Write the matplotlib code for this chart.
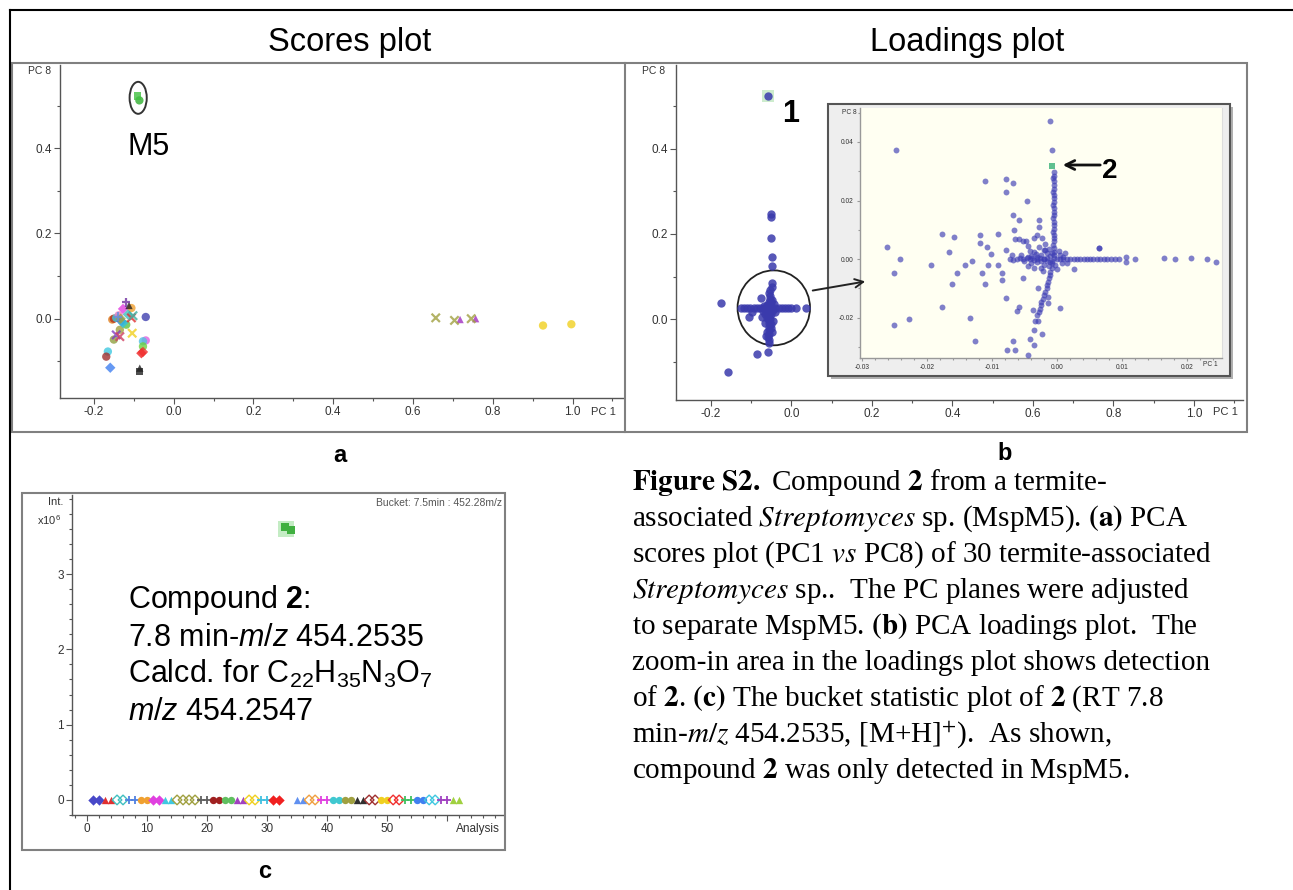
import matplotlib
matplotlib.use("Agg")
import matplotlib.pyplot as plt
from matplotlib.patches import Rectangle, Ellipse, FancyArrowPatch
from matplotlib.lines import Line2D
from matplotlib.ticker import MultipleLocator, FuncFormatter, FixedLocator

plt.rcParams['font.family'] = ['Liberation Sans', 'DejaVu Sans']
plt.rcParams['axes.unicode_minus'] = False
plt.rcParams['mathtext.fontset'] = 'custom'
plt.rcParams['mathtext.rm'] = 'Liberation Sans'
plt.rcParams['mathtext.it'] = 'Liberation Sans:italic'
plt.rcParams['mathtext.bf'] = 'Liberation Sans:bold'

# ---------------- data ----------------
# scores plot (PC1 vs PC8)
sc_x = [-0.119, -0.112, -0.106, -0.127, -0.154, -0.150, -0.144, -0.131, -0.127, -0.106,
        -0.119, -0.102, -0.070, -0.135, -0.104, -0.144, -0.135, -0.150, -0.070, -0.077,
        -0.077, -0.081, -0.077, -0.165, -0.169, -0.159, -0.085, -0.085, -0.140, -0.115,
        -0.133, -0.138, 0.657, 0.704, 0.718, 0.746, 0.757, 0.926, 0.997, -0.090, -0.086]
sc_y = [0.038, 0.031, 0.025, 0.023, -0.002, 0.000, 0.002, -0.006, -0.010, 0.002,
        -0.014, 0.007, 0.004, -0.026, -0.034, -0.038, -0.042, -0.049, -0.051, -0.053,
        -0.065, -0.081, -0.078, -0.077, -0.089, -0.115, -0.116, -0.124, 0.005, 0.010,
        0.000, 0.008, 0.002, -0.004, -0.002, 0.000, 0.000, -0.016, -0.013, 0.522, 0.512]
sc_col = ['#7030a0', '#222222', '#f0a030', '#e040e0', '#e08020', '#b03020', '#40c8d8', '#4060d0',
          '#30c0e0', '#e03030', '#60c040', '#40b0a0', '#4040b0', '#a0a040', '#f0d020', '#8040c0',
          '#d04060', '#90a040', '#e060e0', '#50c0e0', '#70d040', '#f02020', '#f03030', '#40c8e0',
          '#a03030', '#4080f0', '#222222', '#222222', '#6090e0', '#40c0c0', '#a0a040', '#f080c0',
          '#a0a040', '#a0a040', '#a030c0', '#a0a040', '#a030c0', '#f0d020', '#f0d020',
          '#40c040', '#30b030']
sc_mk = ['+', '^', 'o', 'D', 'o', 'o', 'o', 'D', 'D', 'x',
         'o', 'x', 'o', 'o', 'x', 'x', 'x', 'o', 'o', 'o',
         'o', 'D', 'D', 'o', 'o', 'D', '^', 's', '+', 'D',
         'D', 'o', 'x', 'x', '^', 'x', '^', 'o', 'o', 's', 'o']

# loadings plot (PC1 vs PC8)
ld_x = [-0.059, -0.052, -0.052, -0.052, -0.049, -0.048, -0.049, -0.049, -0.077, -0.175,
        -0.085, -0.058, -0.159, -0.105, -0.097,
        -0.126, -0.118, -0.110, -0.102, -0.094, -0.086, -0.078, -0.070, -0.062, -0.040,
        -0.032, -0.024, -0.016, -0.008, 0.000, 0.010, 0.035,
        -0.054, -0.055, -0.053, -0.054, -0.056, -0.055, -0.054, -0.056, -0.055, -0.057,
        -0.056, -0.055, -0.057, -0.056, -0.058, -0.057, -0.056,
        -0.060, -0.064, -0.050, -0.044, -0.062, -0.066, -0.052, -0.046, -0.068, -0.048,
        -0.060, -0.064, -0.042, -0.071, -0.074, -0.050, -0.049,
        -0.058, -0.050, -0.062, -0.046, -0.054, -0.060, -0.052, -0.066]
ld_y = [0.524, 0.247, 0.240, 0.190, 0.147, 0.124, 0.085, 0.076, 0.049, 0.038,
        -0.081, -0.078, -0.124, 0.006, 0.016,
        0.026, 0.027, 0.025, 0.026, 0.027, 0.026, 0.025, 0.027, 0.026, 0.026,
        0.027, 0.025, 0.026, 0.026, 0.025, 0.026, 0.026,
        0.069, 0.062, 0.055, 0.048, 0.041, 0.034, 0.020, 0.012, 0.005, -0.002,
        -0.010, -0.018, -0.026, -0.034, -0.042, -0.050, -0.056,
        0.034, 0.022, 0.012, 0.036, 0.002, -0.008, -0.020, -0.004, 0.030, 0.044,
        -0.030, -0.040, 0.016, 0.020, 0.006, 0.040, -0.030,
        0.014, 0.030, 0.028, 0.022, 0.000, 0.010, -0.012, 0.012]

# zoom-in of the loadings centre
in_x = [-0.0011, -0.0008, -0.0248,
        -0.0005, -0.0004, -0.0006, -0.0005, -0.0004, -0.0005, -0.0006, -0.0005, -0.0004,
        -0.0005, -0.0006, -0.0005, -0.0004, -0.0005, -0.0006, -0.0005, -0.0004, -0.0005,
        -0.0006, -0.0005, -0.0004, -0.0005, -0.0006, -0.0005, -0.0004, -0.0005,
        -0.0007, -0.0008, -0.0010, -0.0011, -0.0012, -0.0013, -0.0015, -0.0016, -0.0018,
        -0.0020, -0.0022, -0.0024, -0.0025, -0.0026, -0.0028, -0.0030,
        0.0005, 0.0010, 0.0015, 0.0020, 0.0026, 0.0031, 0.0036, 0.0041, 0.0046, 0.0051,
        0.0056, 0.0061, 0.0067, 0.0072, 0.0077, 0.0083, 0.0090, 0.0095,
        0.0107, 0.0107, 0.0120, 0.0164, 0.0182, 0.0206, 0.0231, 0.0245, 0.0065,
        -0.0015, -0.0020, -0.0026, -0.0031, -0.0036, -0.0041, -0.0046, -0.0052, -0.0057,
        -0.0062, -0.0067, -0.0072,
        0.0000, -0.0010, -0.0015, -0.0020, -0.0025, -0.0030, -0.0020, -0.0012, -0.0035,
        -0.0040, 0.0005, 0.0008, -0.0028, -0.0018, -0.0045, -0.0035, -0.0022, 0.0003,
        -0.0008, -0.0005, -0.0030, -0.0015,
        -0.0010, 0.0010, -0.0025, -0.0040, -0.0050, -0.0032, -0.0012, 0.0000, -0.0008,
        -0.0020, 0.0012, 0.0015, -0.0045, -0.0055, -0.0025, -0.0003, -0.0018, -0.0038,
        -0.0262, -0.0241, -0.0251, -0.0250, -0.0227, -0.0193, -0.0177, -0.0166, -0.0159,
        -0.0162, -0.0153, -0.0177, -0.0142, -0.0131, -0.0119, -0.0118, -0.0116, -0.0111,
        -0.0110, -0.0133, -0.0126, -0.0108, -0.0106, -0.0101, -0.0090, -0.0090, -0.0085,
        -0.0084, -0.0079, -0.0078, -0.0079, -0.0078, -0.0077, -0.0068, -0.0067, -0.0069,
        -0.0068, -0.0066, -0.0065, -0.0065, -0.0059, -0.0058, -0.0061, -0.0058, -0.0052,
        -0.0046, -0.0048, -0.0044, -0.0042, -0.0041, -0.0036, -0.0035, -0.0037, -0.0034,
        -0.0029, -0.0028, -0.0027, -0.0029, -0.0023, -0.0013, -0.0013, 0.0005, 0.0026,
        0.0064, -0.0036, -0.0031, -0.0023, -0.0052, -0.0044]
in_y = [0.0472, 0.0373, 0.0374,
        0.0299, 0.0285, 0.0276, 0.0265, 0.0253, 0.0240, 0.0230, 0.0220, 0.0208,
        0.0196, 0.0185, 0.0173, 0.0162, 0.0150, 0.0139, 0.0127, 0.0116, 0.0104,
        0.0093, 0.0082, 0.0071, 0.0060, 0.0048, 0.0037, 0.0025, 0.0014,
        -0.0015, -0.0032, -0.0045, -0.0054, -0.0066, -0.0077, -0.0090, -0.0100, -0.0112,
        -0.0123, -0.0135, -0.0146, -0.0158, -0.0169, -0.0180, -0.0192,
        0.0000, 0.0001, -0.0001, 0.0000, 0.0001, 0.0000, -0.0001, 0.0000, 0.0001, 0.0000,
        -0.0001, 0.0000, 0.0001, 0.0000, -0.0001, 0.0000, 0.0001, 0.0000,
        0.0006, -0.0011, 0.0000, 0.0002, -0.0001, 0.0002, 0.0001, -0.0009, 0.0037,
        0.0002, -0.0001, 0.0003, 0.0000, -0.0002, 0.0001, 0.0003, -0.0001, 0.0002,
        0.0000, -0.0002, 0.0001,
        0.0000, 0.0010, 0.0020, 0.0030, 0.0015, -0.0010, -0.0020, -0.0025, 0.0025,
        -0.0015, 0.0015, -0.0012, 0.0040, 0.0050, 0.0008, -0.0030, -0.0040, 0.0028,
        -0.0008, 0.0005, 0.0008, -0.0005,
        -0.0010, 0.0008, -0.0005, 0.0010, -0.0008, 0.0018, 0.0035, -0.0035, 0.0022,
        0.0000, 0.0020, -0.0015, -0.0025, 0.0015, -0.0030, -0.0022, 0.0032, 0.0004,
        0.0042, 0.0000, -0.0048, -0.0224, -0.0205, -0.0020, 0.0084, 0.0025, 0.0076,
        -0.0085, -0.0048, -0.0163, -0.0020, -0.0006, 0.0082, 0.0054, -0.0048, -0.0085,
        0.0267, -0.0201, -0.0280, 0.0042, -0.0020, 0.0017, 0.0084, -0.0022, -0.0048,
        -0.0071, 0.0274, 0.0228, 0.0032, -0.0134, -0.0311, -0.0280, 0.0259, 0.0015,
        0.0150, 0.0099, 0.0068, -0.0311, 0.0134, 0.0068, -0.0177, -0.0163, -0.0066,
        0.0198, 0.0060, -0.0328, -0.0272, 0.0029, -0.0295, -0.0244, -0.0174, -0.0211,
        -0.0213, 0.0134, 0.0111, -0.0100, -0.0257, -0.0128, -0.0151, -0.0166, -0.0033,
        0.0037, 0.0072, 0.0082, 0.0072, 0.0060, 0.0043]
cmp2_x, cmp2_y = -0.0008, 0.0319

# bucket statistic: 62 analyses, colour / marker per strain (pairs)
bk_idx = list(range(1, 63))
bk_int = [0.0] * 32 + [3.62, 3.58] + [0.0] * 28
bk_col = ['#4848c8', '#e03030', '#40c0c0', '#5080e0', '#f0a030', '#e040e0', '#40c8e0', '#a0a040',
          '#a0a040', '#606060', '#a02020', '#60c060', '#a040c0', '#f0d020', '#40c0e0', '#f02020',
          '#40b040', '#6090f0', '#f0a040', '#e040e0', '#40c8d0', '#a0a040', '#303030', '#a03030',
          '#f0d020', '#f03030', '#40c060', '#4080f0', '#40c8e0', '#a040c0', '#a0d040']
bk_mk = ['D', '^', 'D', '+', 'o', 'D', '^', 'D', 'D', '+', 'o', 'o', '^', 'D', '+', 'D',
         's', '^', 'D', '+', 'o', 'o', '^', 'D', 'o', 'D', '+', 'o', 'D', '+', '^']
bk_fill = [1, 1, 0, 1, 1, 1, 1, 0, 0, 1, 1, 1, 1, 0, 1, 1,
           1, 1, 0, 1, 1, 1, 1, 0, 1, 0, 1, 1, 0, 1, 1]

caption = [
    r"$\mathbf{Figure\ S2.}$ Compound $\mathbf{2}$ from a termite-",
    r"associated $\mathit{Streptomyces}$ sp. (MspM5). $\mathbf{(a)}$ PCA",
    r"scores plot (PC1 $\mathit{vs}$ PC8) of 30 termite-associated",
    r"$\mathit{Streptomyces}$ sp..  The PC planes were adjusted",
    r"to separate MspM5. $\mathbf{(b)}$ PCA loadings plot.  The",
    r"zoom-in area in the loadings plot shows detection",
    r"of $\mathbf{2}$. $\mathbf{(c)}$ The bucket statistic plot of $\mathbf{2}$ (RT 7.8",
    r"min-$\mathit{m/z}$ 454.2535, [M+H]$^{+}$).  As shown,",
    r"compound $\mathbf{2}$ was only detected in MspM5.",
]

# ---------------- figure ----------------
W, H = 1293, 890
fig = plt.figure(figsize=(W / 100, H / 100), dpi=100)


def rect(x0, y0, x1, y1):
    return [x0 / W, 1 - y1 / H, (x1 - x0) / W, (y1 - y0) / H]


def pt(x, y):
    return (x / W, 1 - y / H)


def ftext(x, y, s, **kw):
    return fig.text(x / W, 1 - y / H, s, **kw)


def fline(xs, ys, **kw):
    fig.add_artist(Line2D([x / W for x in xs], [1 - y / H for y in ys],
                          transform=fig.transFigure, **kw))


def fbox(x0, y0, x1, y1, **kw):
    fig.add_artist(Rectangle(pt(x0, y1), (x1 - x0) / W, (y1 - y0) / H,
                             transform=fig.transFigure, **kw))


def style(ax, size=8.5, col='#555555'):
    for s in ['top', 'right']:
        ax.spines[s].set_visible(False)
    for s in ['left', 'bottom']:
        ax.spines[s].set_color(col)
        ax.spines[s].set_linewidth(1.0)
    ax.tick_params(which='both', direction='out', colors=col, labelcolor='#333333',
                   labelsize=size, pad=2, width=0.8)
    ax.tick_params(which='major', length=4)
    ax.tick_params(which='minor', length=2.5)


# outer lines and panel frames
fline([10, 10], [10, 890], color='black', lw=1.5)
fline([10, 1293], [10, 10], color='black', lw=1.5)
fbox(12, 63, 1247, 432, fill=False, ec='#808080', lw=1.5, zorder=1)
fline([625, 625], [63, 432], color='#808080', lw=1.5)
fbox(22, 493, 505, 850, fill=False, ec='#808080', lw=1.5, zorder=1)

# ---- scores plot ----
ax_s = fig.add_axes(rect(60, 65, 624, 398))
ax_s.set_xlim(-0.285, 1.129)
ax_s.set_ylim(-0.186, 0.595)
style(ax_s)
ax_s.xaxis.set_major_locator(MultipleLocator(0.2))
ax_s.xaxis.set_minor_locator(MultipleLocator(0.1))
ax_s.yaxis.set_major_locator(MultipleLocator(0.2))
ax_s.yaxis.set_minor_locator(MultipleLocator(0.1))
ax_s.xaxis.set_major_formatter(FuncFormatter(lambda v, p: f"{v:.1f}"))
ax_s.yaxis.set_major_formatter(FuncFormatter(lambda v, p: f"{v:.1f}"))
for mk in ['o', 'D', '^', 's', 'x', '+']:
    idx = [i for i, m in enumerate(sc_mk) if m == mk]
    ax_s.scatter([sc_x[i] for i in idx], [sc_y[i] for i in idx], c=[sc_col[i] for i in idx],
                 marker=mk, s=36 if mk in 'xo+' else 28, alpha=0.8,
                 linewidths=1.6 if mk in 'x+' else 0, zorder=3)
ax_s.add_patch(Ellipse((-0.089, 0.518), 0.043, 0.075, fill=False, ec='#333333', lw=1.4))

# ---- loadings plot ----
ax_l = fig.add_axes(rect(676, 65, 1243, 400))
ax_l.set_xlim(-0.287, 1.122)
ax_l.set_ylim(-0.19, 0.597)
style(ax_l)
ax_l.xaxis.set_major_locator(MultipleLocator(0.2))
ax_l.xaxis.set_minor_locator(MultipleLocator(0.1))
ax_l.yaxis.set_major_locator(MultipleLocator(0.2))
ax_l.yaxis.set_minor_locator(MultipleLocator(0.1))
ax_l.xaxis.set_major_formatter(FuncFormatter(lambda v, p: f"{v:.1f}"))
ax_l.yaxis.set_major_formatter(FuncFormatter(lambda v, p: f"{v:.1f}"))
ax_l.scatter([ld_x[0]], [ld_y[0]], marker='s', s=80, c='#cdeccd', zorder=2, linewidths=0)
ax_l.scatter(ld_x, ld_y, s=36, c='#3a3aac', alpha=0.85, linewidths=0, zorder=3)
ax_l.add_patch(Ellipse((-0.044, 0.0265), 0.18, 0.176, fill=False, ec='#222222', lw=1.3))
ax_l.set_zorder(0)

# ---- zoom-in inset ----
fbox(831, 107, 1233, 379, fc='#b0b0b0', ec='none', zorder=2.4)
fbox(828, 104, 1230, 376, fc='#eeeeee', ec='#555555', lw=1.5, zorder=2.5)
ax_i = fig.add_axes(rect(860, 108, 1222, 358), facecolor='#fffff2')
ax_i.set_zorder(2.8)
ax_i.set_xlim(-0.0303, 0.0254)
ax_i.set_ylim(-0.0338, 0.0516)
style(ax_i, size=4.8, col='#999999')
ax_i.spines['right'].set_visible(True)
ax_i.spines['right'].set_color('#dddddd')
ax_i.tick_params(which='major', length=2.5)
ax_i.tick_params(which='minor', length=1.5)
ax_i.xaxis.set_major_locator(MultipleLocator(0.01))
ax_i.xaxis.set_minor_locator(MultipleLocator(0.002))
ax_i.yaxis.set_major_locator(MultipleLocator(0.02))
ax_i.yaxis.set_minor_locator(MultipleLocator(0.01))
ax_i.xaxis.set_major_formatter(FuncFormatter(lambda v, p: f"{v:.2f}"))
ax_i.yaxis.set_major_formatter(FuncFormatter(lambda v, p: f"{v:.2f}"))
ax_i.scatter(in_x, in_y, s=18, c='#3c3cb4', alpha=0.65, linewidths=0, zorder=3)
ax_i.scatter([cmp2_x], [cmp2_y], s=18, marker='s', c='#60c090', linewidths=0, zorder=4)

# ---- bucket statistic ----
ax_b = fig.add_axes(rect(72, 495, 503, 815))
ax_b.set_xlim(-2.5, 69.3)
ax_b.set_ylim(-0.2, 4.05)
style(ax_b)
ax_b.xaxis.set_major_locator(MultipleLocator(10))
ax_b.xaxis.set_minor_locator(MultipleLocator(2))
ax_b.xaxis.set_major_formatter(FuncFormatter(lambda v, p: f"{v:.0f}" if v < 55 else ""))
ax_b.yaxis.set_major_locator(FixedLocator([0, 1, 2, 3]))
ax_b.yaxis.set_minor_locator(MultipleLocator(0.2))
ax_b.yaxis.set_major_formatter(FuncFormatter(lambda v, p: f"{v:.0f}"))
ax_b.scatter([33.2], [3.6], marker='s', s=120, c='#c4ecc4', linewidths=0, zorder=2)
for i in range(len(bk_idx)):
    k = i // 2
    mk, col, fill = bk_mk[k], bk_col[k], bk_fill[k]
    if mk in '+x':
        ax_b.scatter(bk_idx[i], bk_int[i], marker=mk, s=32, c=col, linewidths=1.3, zorder=3)
    elif fill:
        ax_b.scatter(bk_idx[i], bk_int[i], marker=mk, s=28, c=col, linewidths=0, zorder=3)
    else:
        ax_b.scatter(bk_idx[i], bk_int[i], marker=mk, s=24, facecolors='none',
                     edgecolors=col, linewidths=1.0, zorder=3)

# ---------------- texts ----------------
ftext(350, 51, "Scores plot", ha='center', va='baseline', fontsize=23.5)
ftext(967, 51, "Loadings plot", ha='center', va='baseline', fontsize=23.5)
ftext(51, 71, "PC 8", ha='right', va='center', fontsize=7.5, color='#333333')
ftext(616, 412, "PC 1", ha='right', va='center', fontsize=8, color='#333333')
ftext(665, 71, "PC 8", ha='right', va='center', fontsize=7.5, color='#333333')
ftext(1238, 412, "PC 1", ha='right', va='center', fontsize=8, color='#333333')
ftext(857, 112, "PC 8", ha='right', va='center', fontsize=4.8, color='#333333', zorder=4)
ftext(1218, 364, "PC 1", ha='right', va='center', fontsize=4.8, color='#333333', zorder=4)
ftext(127, 155, "M5", ha='left', va='baseline', fontsize=22)
ftext(791, 122, "1", ha='center', va='baseline', fontsize=22, fontweight='bold')
ftext(1110, 178, "2", ha='center', va='baseline', fontsize=20, fontweight='bold', zorder=5)
fig.add_artist(FancyArrowPatch(pt(1103, 165), pt(1060, 165), transform=fig.transFigure,
                               arrowstyle='->', mutation_scale=16, lw=2.0, color='#111111',
                               zorder=5))
fig.add_artist(FancyArrowPatch(pt(810, 291), pt(868, 281), transform=fig.transFigure,
                               arrowstyle='->', mutation_scale=15, lw=1.4, color='#222222',
                               zorder=5))
ftext(340, 462, "a", ha='center', va='baseline', fontsize=17, fontweight='bold')
ftext(1005, 460, "b", ha='center', va='baseline', fontsize=17, fontweight='bold')
ftext(265, 878, "c", ha='center', va='baseline', fontsize=17, fontweight='bold')

# bucket panel texts
ftext(63, 502, "Int.", ha='right', va='center', fontsize=8, color='#333333')
ftext(61, 520, r"x10$^6$", ha='right', va='center', fontsize=8, color='#333333')
ftext(500, 829, "Analysis", ha='right', va='center', fontsize=8.5, color='#333333')
ftext(502, 503, "Bucket: 7.5min : 452.28m/z", ha='right', va='center', fontsize=7.5,
      color='#555555')
comp = [r"Compound $\mathbf{2}$:", r"7.8 min-$m/z$ 454.2535",
        r"Calcd. for C$_{22}$H$_{35}$N$_3$O$_7$", r"$m/z$ 454.2547"]
for k, s in enumerate(comp):
    ftext(128, 608 + 37.5 * k, s, ha='left', va='baseline', fontsize=22)

# caption
for k, s in enumerate(caption):
    ftext(632, 490 + 36 * k, s, ha='left', va='baseline', fontsize=21,
          family='Liberation Serif', math_fontfamily='stix')

fig.savefig("out.png", dpi=100)
